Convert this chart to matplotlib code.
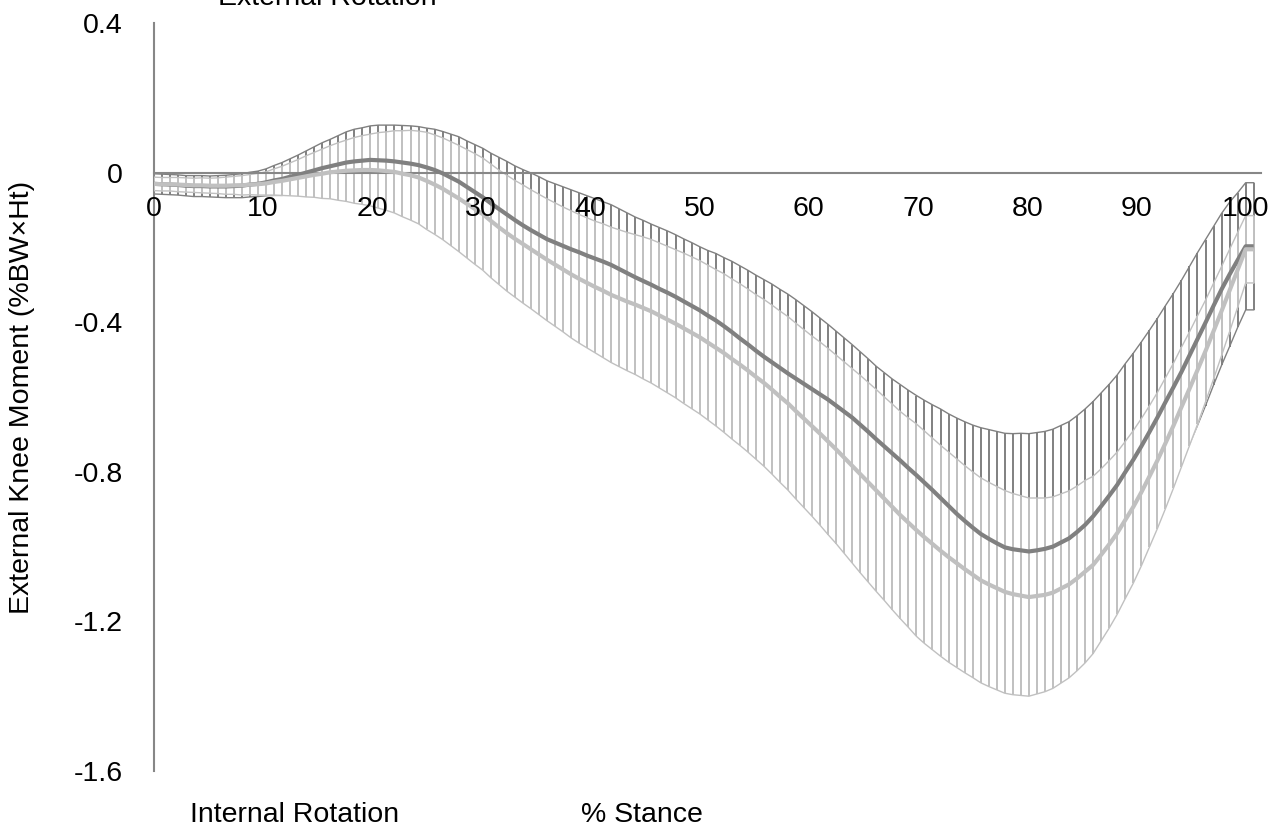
import matplotlib
matplotlib.use("Agg")
import matplotlib.pyplot as plt
import numpy as np

plt.rcParams['font.family'] = ['Liberation Sans', 'DejaVu Sans']

# knee rotation moment, two groups, mean and SD at each sample of stance
# 137 samples over 0-100 % stance, last sample repeated
stance = np.arange(138) * 100 / 136

dark_mean = [
    -0.030, -0.031, -0.032, -0.033, -0.035, -0.036, -0.036, -0.037, -0.037, -0.037,
    -0.036, -0.035, -0.032, -0.030, -0.026, -0.021, -0.017, -0.011, -0.006, 0.000,
    0.006, 0.012, 0.017, 0.022, 0.027, 0.030, 0.032, 0.034, 0.033, 0.032,
    0.030, 0.027, 0.024, 0.020, 0.014, 0.007, -0.002, -0.013, -0.024, -0.038,
    -0.052, -0.066, -0.082, -0.097, -0.112, -0.127, -0.141, -0.154, -0.166, -0.178,
    -0.187, -0.196, -0.205, -0.213, -0.222, -0.230, -0.238, -0.247, -0.258, -0.269,
    -0.280, -0.290, -0.300, -0.311, -0.321, -0.332, -0.344, -0.356, -0.368, -0.382,
    -0.395, -0.410, -0.426, -0.443, -0.459, -0.476, -0.492, -0.507, -0.522, -0.537,
    -0.551, -0.565, -0.579, -0.593, -0.607, -0.623, -0.639, -0.655, -0.674, -0.693,
    -0.713, -0.732, -0.751, -0.770, -0.790, -0.809, -0.829, -0.849, -0.870, -0.891,
    -0.912, -0.931, -0.949, -0.966, -0.979, -0.991, -1.002, -1.007, -1.010, -1.013,
    -1.010, -1.006, -1.000, -0.989, -0.978, -0.961, -0.942, -0.919, -0.892, -0.864,
    -0.835, -0.801, -0.768, -0.732, -0.694, -0.655, -0.614, -0.574, -0.533, -0.489,
    -0.445, -0.401, -0.356, -0.312, -0.272, -0.234, -0.197, -0.197]

dark_sd = [
    0.027, 0.027, 0.027, 0.027, 0.027, 0.028, 0.028, 0.028, 0.029, 0.030,
    0.031, 0.032, 0.033, 0.034, 0.036, 0.040, 0.044, 0.048, 0.053, 0.058,
    0.063, 0.068, 0.072, 0.077, 0.082, 0.086, 0.088, 0.091, 0.094, 0.095,
    0.097, 0.099, 0.101, 0.103, 0.105, 0.109, 0.112, 0.116, 0.120, 0.123,
    0.127, 0.131, 0.134, 0.138, 0.142, 0.145, 0.149, 0.153, 0.155, 0.156,
    0.157, 0.158, 0.159, 0.159, 0.160, 0.160, 0.160, 0.161, 0.161, 0.161,
    0.161, 0.162, 0.162, 0.164, 0.165, 0.166, 0.167, 0.169, 0.170, 0.174,
    0.179, 0.183, 0.189, 0.194, 0.198, 0.202, 0.206, 0.209, 0.210, 0.212,
    0.211, 0.209, 0.207, 0.204, 0.201, 0.199, 0.197, 0.195, 0.195, 0.195,
    0.195, 0.197, 0.199, 0.203, 0.208, 0.213, 0.220, 0.228, 0.238, 0.246,
    0.256, 0.265, 0.274, 0.284, 0.292, 0.299, 0.305, 0.309, 0.313, 0.315,
    0.315, 0.314, 0.314, 0.313, 0.312, 0.311, 0.310, 0.307, 0.303, 0.298,
    0.294, 0.290, 0.285, 0.279, 0.272, 0.265, 0.258, 0.251, 0.245, 0.238,
    0.231, 0.222, 0.212, 0.203, 0.193, 0.180, 0.170, 0.170]

light_mean = [
    -0.030, -0.031, -0.031, -0.032, -0.033, -0.034, -0.034, -0.035, -0.035, -0.035,
    -0.034, -0.034, -0.032, -0.031, -0.029, -0.025, -0.022, -0.018, -0.014, -0.010,
    -0.006, -0.003, 0.001, 0.003, 0.005, 0.006, 0.007, 0.007, 0.006, 0.004,
    0.002, -0.003, -0.007, -0.013, -0.022, -0.032, -0.043, -0.056, -0.069, -0.083,
    -0.097, -0.111, -0.129, -0.146, -0.162, -0.177, -0.191, -0.205, -0.219, -0.233,
    -0.246, -0.259, -0.272, -0.284, -0.295, -0.306, -0.316, -0.327, -0.336, -0.345,
    -0.353, -0.362, -0.371, -0.382, -0.393, -0.404, -0.416, -0.428, -0.440, -0.454,
    -0.468, -0.482, -0.498, -0.513, -0.529, -0.546, -0.562, -0.580, -0.599, -0.617,
    -0.638, -0.658, -0.678, -0.698, -0.719, -0.740, -0.762, -0.784, -0.806, -0.828,
    -0.850, -0.872, -0.894, -0.916, -0.936, -0.956, -0.975, -0.993, -1.011, -1.028,
    -1.044, -1.060, -1.075, -1.090, -1.101, -1.111, -1.121, -1.127, -1.131, -1.135,
    -1.132, -1.129, -1.123, -1.112, -1.101, -1.085, -1.067, -1.049, -1.022, -0.994,
    -0.964, -0.929, -0.894, -0.855, -0.813, -0.770, -0.724, -0.677, -0.627, -0.578,
    -0.528, -0.477, -0.424, -0.370, -0.315, -0.260, -0.205, -0.205]

light_sd = [
    0.018, 0.018, 0.018, 0.019, 0.019, 0.019, 0.020, 0.020, 0.021, 0.023,
    0.024, 0.026, 0.027, 0.029, 0.031, 0.035, 0.039, 0.044, 0.049, 0.055,
    0.060, 0.066, 0.071, 0.077, 0.082, 0.088, 0.092, 0.096, 0.101, 0.105,
    0.110, 0.115, 0.120, 0.124, 0.130, 0.133, 0.136, 0.139, 0.142, 0.145,
    0.148, 0.150, 0.152, 0.153, 0.155, 0.156, 0.158, 0.159, 0.161, 0.163,
    0.165, 0.167, 0.170, 0.172, 0.174, 0.176, 0.179, 0.181, 0.183, 0.185,
    0.187, 0.190, 0.192, 0.194, 0.196, 0.198, 0.201, 0.203, 0.205, 0.207,
    0.209, 0.212, 0.214, 0.216, 0.218, 0.220, 0.223, 0.226, 0.229, 0.232,
    0.235, 0.238, 0.241, 0.245, 0.249, 0.252, 0.256, 0.260, 0.264, 0.267,
    0.270, 0.272, 0.275, 0.277, 0.280, 0.284, 0.284, 0.283, 0.282, 0.281,
    0.279, 0.277, 0.275, 0.274, 0.273, 0.272, 0.271, 0.269, 0.267, 0.265,
    0.262, 0.259, 0.256, 0.253, 0.250, 0.247, 0.244, 0.237, 0.230, 0.224,
    0.217, 0.210, 0.204, 0.197, 0.189, 0.182, 0.175, 0.167, 0.160, 0.152,
    0.145, 0.136, 0.128, 0.119, 0.110, 0.100, 0.090, 0.090]

xticks = [0, 10, 20, 30, 40, 50, 60, 70, 80, 90, 100]
yticks = [-1.6, -1.2, -0.8, -0.4, 0, 0.4]
ytick_labels = ["-1.6", "-1.2", "-0.8", "-0.4", "0", "0.4"]

dark = "#808080"
light = "#c0c0c0"
axis_col = "#878787"

dm = np.array(dark_mean)
ds = np.array(dark_sd)
lm = np.array(light_mean)
ls = np.array(light_sd)

fig = plt.figure(figsize=(12.85, 8.31), dpi=100)
ax = fig.add_axes([0.1195, 0.0722, 0.8618, 0.9001])

# dark group SD bars + envelope
ax.vlines(stance, dm - ds, dm + ds, color=dark, lw=1.4, zorder=1)
ax.plot(stance, dm + ds, color=dark, lw=1, zorder=1)
ax.plot(stance, dm - ds, color=dark, lw=1, zorder=1)

# light group band sits on top of the dark one
ax.fill_between(stance, lm - ls, lm + ls, color="white", lw=0, zorder=3)
ax.vlines(stance, lm - ls, lm + ls, color=light, lw=1.4, zorder=4)
ax.plot(stance, lm + ls, color=light, lw=1, zorder=4)
ax.plot(stance, lm - ls, color=light, lw=1, zorder=4)

ax.plot(stance, dm, color=dark, lw=3, zorder=6, solid_capstyle="butt")
ax.plot(stance, lm, color=light, lw=3, zorder=7, solid_capstyle="butt")

ax.set_xlim(0, 101.4)
ax.set_ylim(-1.6, 0.4)

for s in ["top", "right"]:
    ax.spines[s].set_visible(False)
ax.spines["bottom"].set_position(("data", 0))
ax.spines["bottom"].set_color(axis_col)
ax.spines["bottom"].set_linewidth(1.5)
ax.spines["bottom"].set_zorder(5)
ax.spines["left"].set_color(axis_col)
ax.spines["left"].set_linewidth(1.5)

ax.set_xticks(xticks)
ax.set_yticks(yticks)
ax.set_yticklabels(ytick_labels)
ax.tick_params(axis="x", length=0, pad=16.5, labelsize=20.5)
ax.tick_params(axis="y", length=0, pad=22, labelsize=20.5)
ax.xaxis.set_zorder(10)

ax.set_ylabel("External Knee Moment (%BW\u00d7Ht)", fontsize=20.5)
ax.yaxis.set_label_coords(-0.107, 0.5)

fig.text(218 / 1285, 1 - 5 / 831, "External Rotation", fontsize=20.5, va="baseline")
fig.text(190 / 1285, 1 - 822 / 831, "Internal Rotation", fontsize=20.5, va="baseline")
fig.text(642 / 1285, 1 - 822 / 831, "% Stance", fontsize=20.5, va="baseline", ha="center")

fig.savefig("out.png", dpi=100)
